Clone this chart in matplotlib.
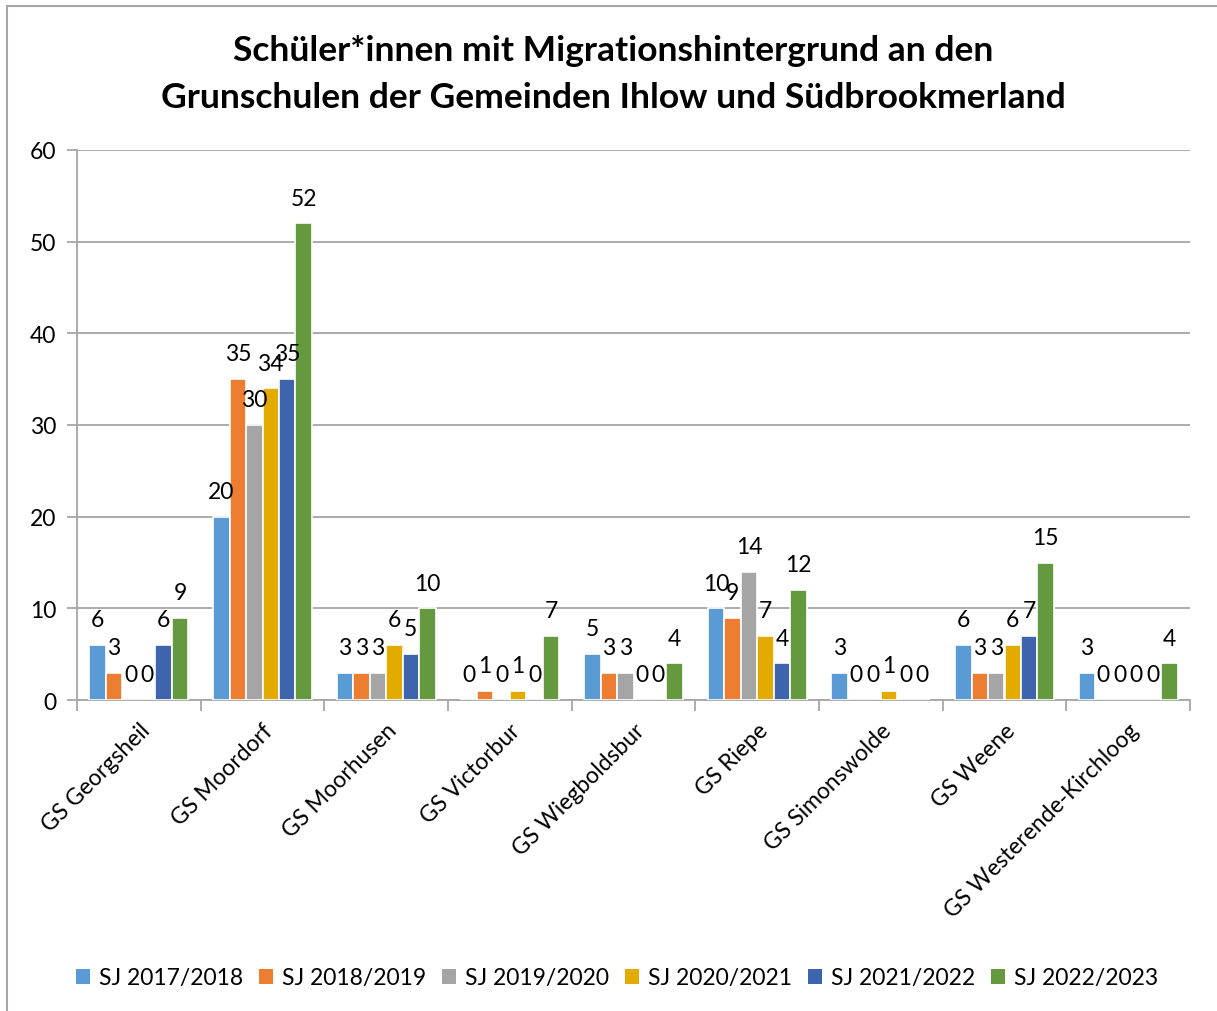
import numpy as np
import matplotlib
matplotlib.use("Agg")
import matplotlib.pyplot as plt
import matplotlib.transforms as mtransforms
from matplotlib.patches import Patch, Rectangle

plt.rcParams['font.family'] = ['Lato', 'DejaVu Sans']

schools = ["GS Georgsheil", "GS Moordorf", "GS Moorhusen", "GS Victorbur",
           "GS Wiegboldsbur", "GS Riepe", "GS Simonswolde", "GS Weene",
           "GS Westerende-Kirchloog"]
years = ["SJ 2017/2018", "SJ 2018/2019", "SJ 2019/2020",
         "SJ 2020/2021", "SJ 2021/2022", "SJ 2022/2023"]

sj_2017 = [6, 20, 3, 0, 5, 10, 3, 6, 3]
sj_2018 = [3, 35, 3, 1, 3, 9, 0, 3, 0]
sj_2019 = [0, 30, 3, 0, 3, 14, 0, 3, 0]
sj_2020 = [0, 34, 6, 1, 0, 7, 1, 6, 0]
sj_2021 = [6, 35, 5, 0, 0, 4, 0, 7, 0]
sj_2022 = [9, 52, 10, 7, 4, 12, 0, 15, 4]
series = [sj_2017, sj_2018, sj_2019, sj_2020, sj_2021, sj_2022]

colors = ["#5B9BD5", "#ED7D31", "#A5A5A5", "#E3AB00", "#3E64AE", "#64993F"]
yticks = [0, 10, 20, 30, 40, 50, 60]

FS = 16.5
W, H = 1217, 1012
fig = plt.figure(figsize=(W / 100, H / 100), dpi=100)
ax = fig.add_axes([77 / W, (H - 701) / H, (1190 - 77) / W, (701 - 151) / H])

# outer chart frame (only top and left are visible in the crop)
fig.patches.append(Rectangle((7 / W, -0.1), 1.2, (H - 7) / H + 0.1, transform=fig.transFigure,
                             fill=False, edgecolor="#A6A6A6", linewidth=1.5))

x = np.arange(len(schools))
slot = 0.8 / len(series)
for i, (vals, c, name) in enumerate(zip(series, colors, years)):
    pos = x - 0.4 + slot * (i + 0.5)
    ax.bar(pos, vals, width=slot, color=c, edgecolor="white", linewidth=1.2,
           label=name, zorder=3)
    for xp, v in zip(pos, vals):
        ax.annotate(str(v), (xp, v), xytext=(0, 13.5), textcoords="offset points",
                    ha="center", va="baseline", fontsize=FS, color="black", zorder=4)

ax.set_xlim(-0.5, len(schools) - 0.5)
ax.set_ylim(0, 60)
ax.set_yticks(yticks)
ax.set_yticklabels([str(t) for t in yticks], fontsize=FS)
ax.yaxis.grid(True, color="#A6A6A6", linewidth=1.3, zorder=0)
ax.set_axisbelow(True)

ax.set_xticks(x)
ax.set_xticklabels(schools, rotation=45, ha="right", va="top", rotation_mode="anchor",
                   fontsize=FS)
shift = mtransforms.ScaledTranslation(-15 / 100, -14 / 100, fig.dpi_scale_trans)
for lbl in ax.get_xticklabels():
    lbl.set_transform(lbl.get_transform() + shift)
ax.set_xticks(np.arange(len(schools) + 1) - 0.5, minor=True)
ax.tick_params(axis="x", which="major", length=0, pad=14)
ax.tick_params(axis="x", which="minor", length=8, color="#A6A6A6", width=1.3)
ax.tick_params(axis="y", length=7, color="#A6A6A6", width=1.3, pad=8)

for s in ["top", "right"]:
    ax.spines[s].set_visible(False)
for s in ["left", "bottom"]:
    ax.spines[s].set_color("#A6A6A6")
    ax.spines[s].set_linewidth(1.3)

fig.text(613 / W, 1 - 51 / H, "Schüler*innen mit Migrationshintergrund an den",
         ha="center", va="center", fontsize=25.5, fontweight="bold")
fig.text(613 / W, 1 - 98 / H, "Grunschulen der Gemeinden Ihlow und Südbrookmerland",
         ha="center", va="center", fontsize=25.5, fontweight="bold")

handles = [Patch(facecolor=c, edgecolor="none") for c in colors]
fig.legend(handles, years, loc="center", bbox_to_anchor=(617 / W, 1 - 979 / H), ncol=6,
           frameon=False, fontsize=FS, handlelength=0.6, handleheight=0.6,
           handletextpad=0.4, columnspacing=0.7)

fig.savefig("out.png", dpi=100)
